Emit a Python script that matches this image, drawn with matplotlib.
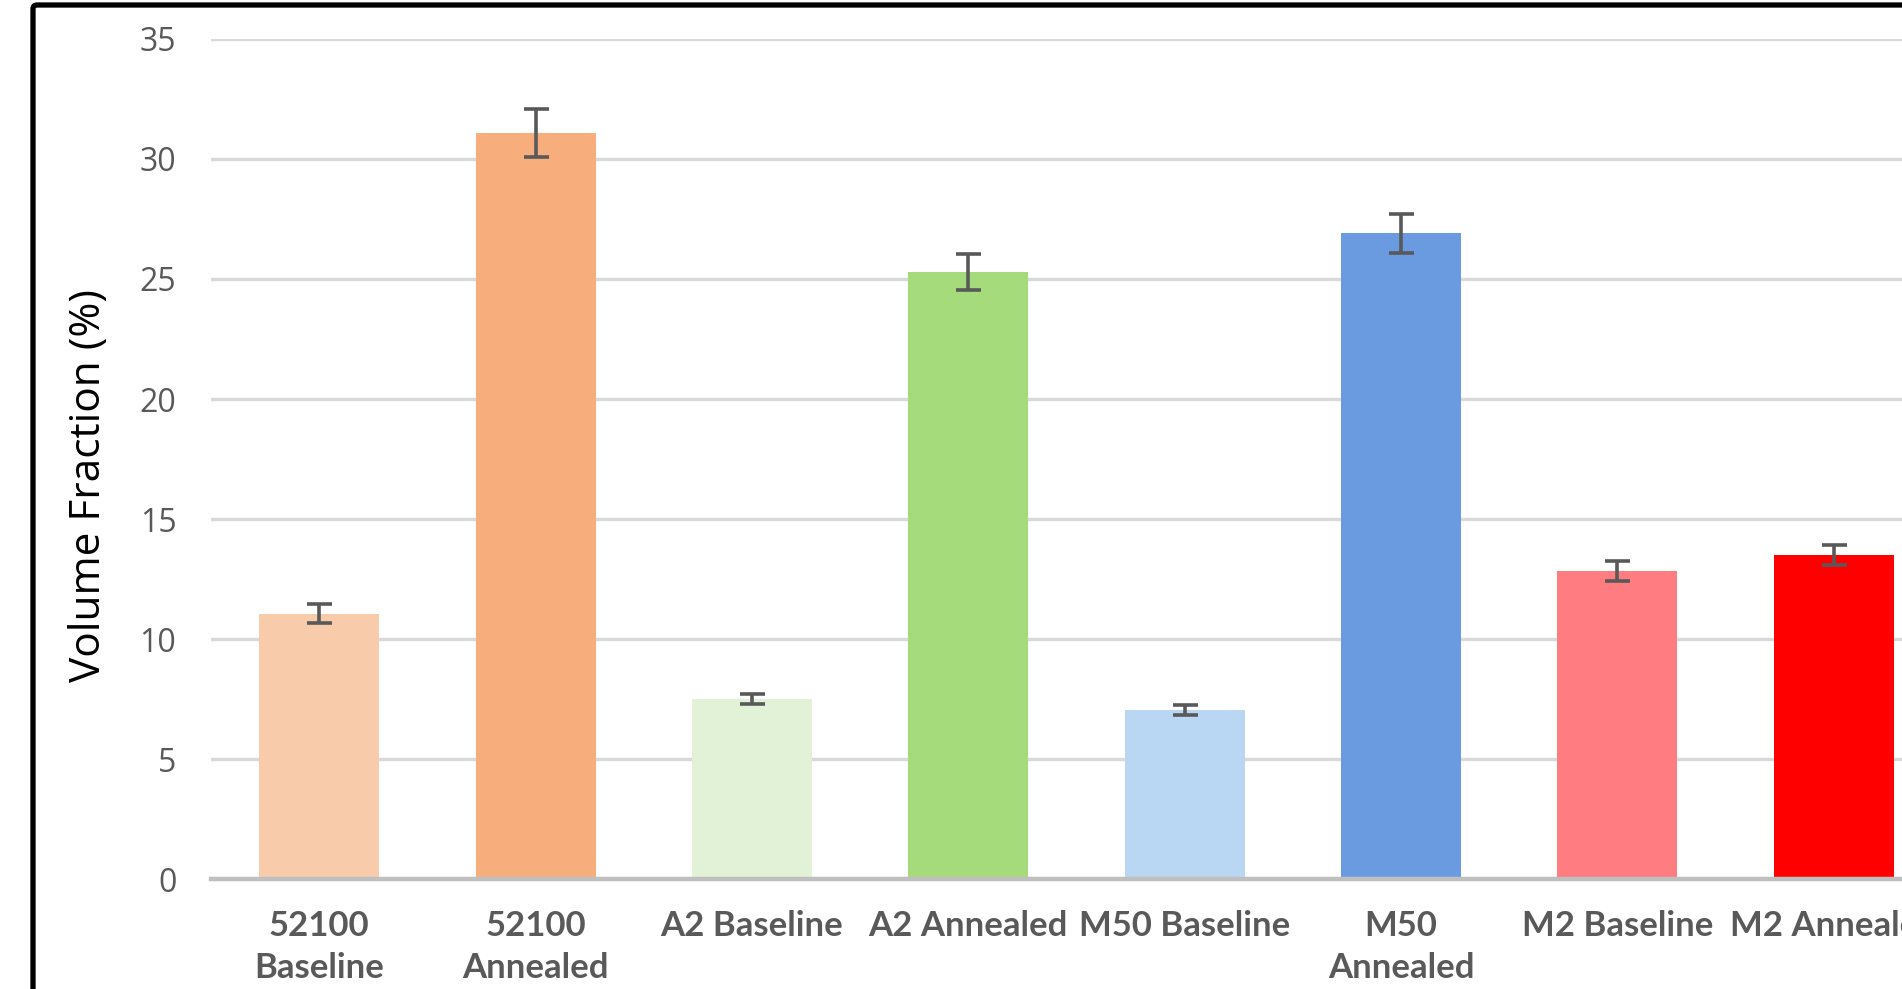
import numpy as np
import matplotlib.pyplot as plt
from matplotlib.patches import FancyBboxPatch

categories = ["52100\nBaseline", "52100\nAnnealed", "A2 Baseline", "A2 Annealed",
              "M50 Baseline", "M50\nAnnealed", "M2 Baseline", "M2 Annealed"]
values = [11.05, 31.1, 7.5, 25.3, 7.05, 26.9, 12.85, 13.5]
errors = [0.4, 1.0, 0.2, 0.75, 0.2, 0.8, 0.42, 0.42]
colors = ["#F8CBAA", "#F7AE7C", "#E2F2D6", "#A6DB7C",
          "#B9D7F2", "#6A9ADF", "#FF7C80", "#FF0000"]
yticks = [0, 5, 10, 15, 20, 25, 30, 35]

W, H = 1902, 989
fig = plt.figure(figsize=(W / 100, H / 100), dpi=100)

# plot area: x from 211px to past the right edge, y from 39px to 879px
ax = fig.add_axes([211 / W, (H - 879) / H, (1942 - 211) / W, (879 - 39) / H])

x = np.arange(len(categories))
ax.bar(x, values, width=0.555, color=colors, zorder=2)
ax.errorbar(x, values, yerr=errors, fmt="none", ecolor="#595959",
            elinewidth=2.6, capsize=9, capthick=2.6, zorder=3)

ax.set_xlim(-0.5, len(categories) - 0.5)
ax.set_ylim(0, 35)
ax.set_yticks(yticks)
ax.yaxis.grid(True, color="#D9D9D9", linewidth=2.4, zorder=0)
ax.set_axisbelow(True)

for s in ["top", "right", "left"]:
    ax.spines[s].set_visible(False)
ax.spines["bottom"].set_color("#BFBFBF")
ax.spines["bottom"].set_linewidth(3.2)
ax.spines["bottom"].set_zorder(4)

ax.tick_params(axis="both", length=0)
ax.tick_params(axis="y", pad=25, labelsize=23, labelcolor="#595959")
ax.set_yticklabels([str(t) for t in yticks], fontfamily="Open Sans")
ax.set_xticks(x)
ax.set_xticklabels(categories, fontfamily="Lato", fontweight="bold",
                   fontsize=25, color="#595959", linespacing=1.4, va="top")
ax.tick_params(axis="x", pad=22)

fig.text(89 / W, 1 - 486 / H, "Volume Fraction (%)", rotation=90,
         ha="center", va="center", fontsize=30.5, fontfamily="Open Sans",
         color="black")

# black frame around the figure (cropped on right and bottom)
frame = FancyBboxPatch((33, -40), W + 60, H - 4 + 40 - 1,
                       boxstyle="round,pad=0,rounding_size=4",
                       transform=None, fill=False, edgecolor="black",
                       linewidth=3.8)
fig.patches.append(frame)

fig.savefig("out.png", dpi=100)
